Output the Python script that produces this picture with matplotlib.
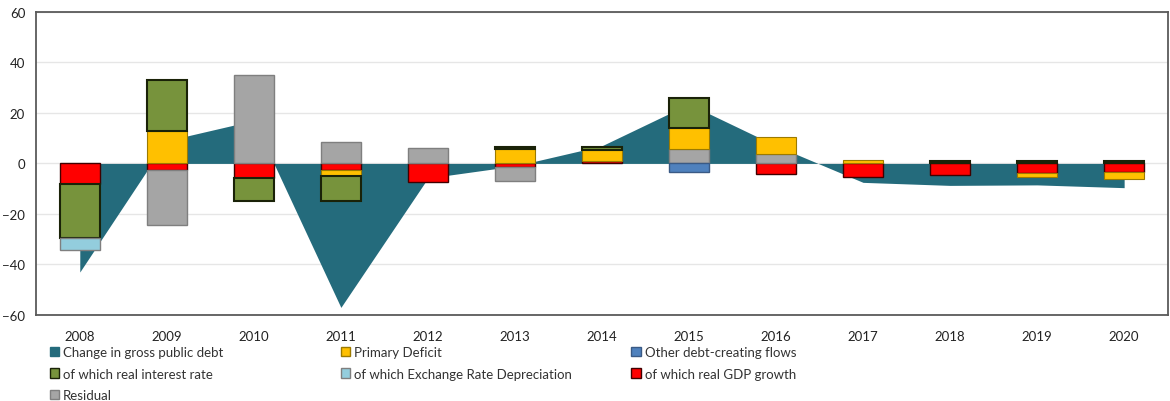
import numpy as np
import matplotlib
matplotlib.use("Agg")
from matplotlib import pyplot as plt
from matplotlib.patches import Patch

plt.rcParams['font.family'] = ['Lato', 'DejaVu Sans']

years = ['2008', '2009', '2010', '2011', '2012', '2013', '2014',
         '2015', '2016', '2017', '2018', '2019', '2020']

change_debt = [-43, 9, 17, -57, -5.8, -1, 7, 23.5, 7, -7.5, -8.7, -8.5, -9.6]
gdp_growth = [-8, -2.6, -5.8, -2.6, -7.5, -1.6, 0.8, 0, -4.2, -5.3, -4.5, -3.8, -3.3]
residual = [0, -21.7, 35, 8.3, 6.3, -5.5, 0, 5.7, 3.7, 0, 0, 0, 0]
primary_deficit = [0, 12.9, 0, -2.2, 0, 5.7, 4.7, 8.3, 6.6, 1.5, 0, -1.7, -2.9]
other_flows = [0, 0, 0, 0, 0, 0, 0, -3.2, 0, 0, 0, 0, 0]
interest_rate = [-21.6, 20.1, -9, -10.2, 0, 0.8, 1, 12, 0, 0, 0.8, 0.8, 0.8]
exchange_rate = [-4.8, 0, 0, 0, 0, 0, 0, 0, 0, 0, 0, 0, 0]

c_debt = '#246b7c'
c_yellow = '#ffc000'
c_blue = '#4f81bd'
c_green = '#77933c'
c_lblue = '#93cddd'
c_red = '#ff0000'
c_gray = '#a5a5a5'

fig = plt.figure(figsize=(11.7, 4.02), dpi=100)
ax = fig.add_axes([0.031, 0.214, 0.967, 0.754])

x = np.arange(len(years))
ax.fill_between(x, 0, change_debt, color=c_debt, linewidth=0, zorder=2)

# stacked bars, positives and negatives stacked separately (excel style)
stack = [
    (gdp_growth, c_red, '#400000', 1.0),
    (residual, c_gray, '#7f7f7f', 1.0),
    (primary_deficit, c_yellow, '#9c7a00', 0.8),
    (other_flows, c_blue, '#3a5a85', 1.0),
    (interest_rate, c_green, '#1a2208', 1.5),
    (exchange_rate, c_lblue, '#7f7f7f', 1.0),
]
pos = np.zeros(len(years))
neg = np.zeros(len(years))
w = 0.46
for vals, fc, ec, lw in stack:
    v = np.array(vals, dtype=float)
    bottoms = np.where(v >= 0, pos, neg)
    mask = v != 0
    ax.bar(x[mask], v[mask], width=w, bottom=bottoms[mask], color=fc,
           edgecolor=ec, linewidth=lw, zorder=3)
    pos = pos + np.where(v > 0, v, 0)
    neg = neg + np.where(v < 0, v, 0)

ax.set_xlim(-0.5, len(years) - 0.5)
ax.set_ylim(-60, 60)
ax.set_yticks(range(-60, 61, 20))
ax.set_xticks(x)
ax.set_xticklabels(years)
ax.tick_params(length=0, labelsize=9.5, colors='#222222')
ax.tick_params(axis='x', pad=11)
ax.tick_params(axis='y', pad=8)
ax.yaxis.grid(True, color='#e6e6e6', linewidth=1, zorder=0)
ax.set_axisbelow(True)
for s in ax.spines.values():
    s.set_color('#5a5a5a')
    s.set_linewidth(1.3)

def h(fc, ec):
    return Patch(facecolor=fc, edgecolor=ec, linewidth=1)

cols = [
    ([h(c_debt, c_debt), h(c_green, '#1a2208'), h(c_gray, '#7f7f7f')],
     ['Change in gross public debt', 'of which real interest rate', 'Residual'], 0.037),
    ([h(c_yellow, '#9c7a00'), h(c_lblue, '#7f7f7f')],
     ['Primary Deficit', 'of which Exchange Rate Depreciation'], 0.286),
    ([h(c_blue, '#3a5a85'), h(c_red, '#400000')],
     ['Other debt-creating flows', 'of which real GDP growth'], 0.534),
]
for handles, labels, xpos in cols:
    fig.legend(handles, labels, loc='upper left', bbox_to_anchor=(xpos, 0.153),
               frameon=False, fontsize=9.5, handlelength=0.7, handleheight=0.7,
               handletextpad=0.3, labelspacing=0.72, borderpad=0,
               labelcolor='#333333')

plt.savefig('out.png', dpi=100)
